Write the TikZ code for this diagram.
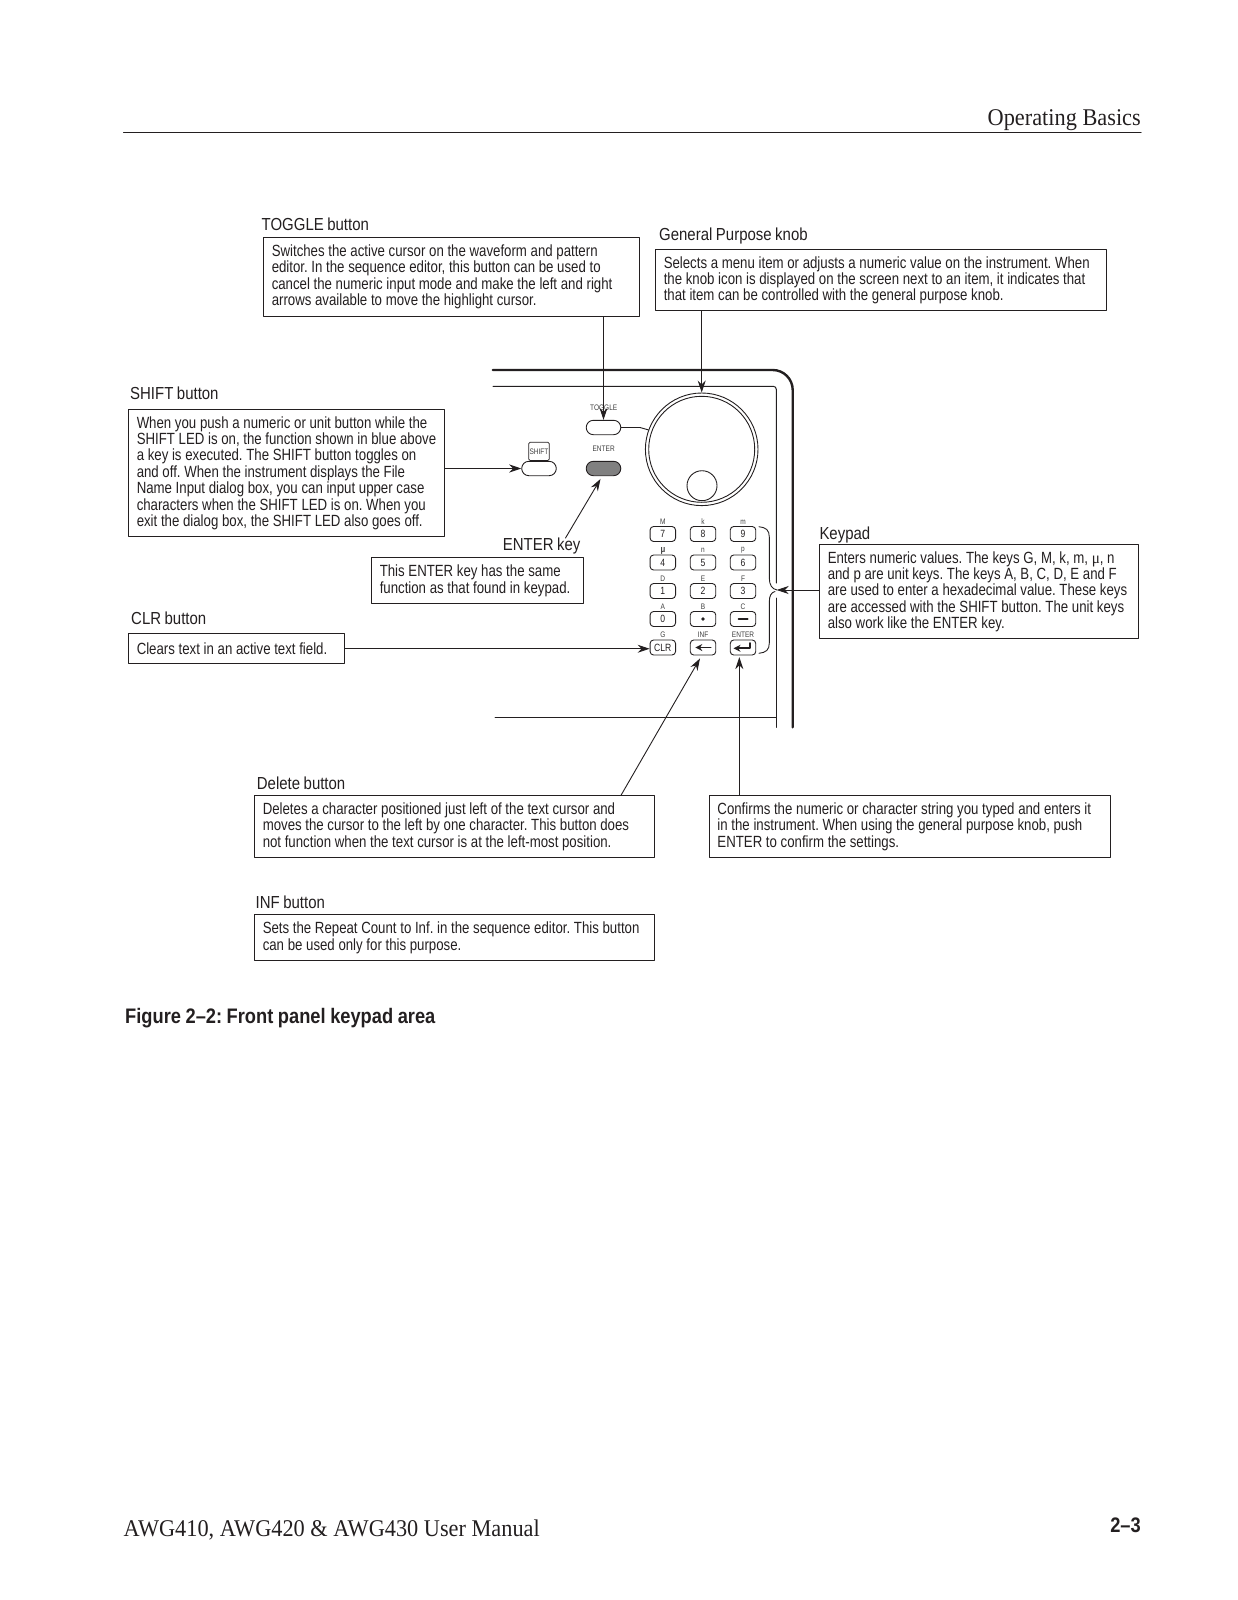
\documentclass[tikz,border=0pt]{standalone}
\usepackage{fontspec}
\usetikzlibrary{arrows.meta}
\newfontfamily\labelfont[FakeStretch=0.817]{Liberation Sans}
\newfontfamily\titlefont[FakeStretch=0.86,WordSpace=0.85]{Liberation Sans}
\newfontfamily\capfont[FakeStretch=0.87,WordSpace=0.9]{Liberation Sans}
\newfontfamily\pagefont[FakeStretch=0.93]{Liberation Serif}
\definecolor{inkblack}{HTML}{231F20}
\frenchspacing
\tikzset{
  infobox/.style={draw=inkblack, line width=0.9pt, anchor=north west, inner xsep=8pt, inner ysep=0pt,
    align=flush left, text=inkblack, font=\labelfont\fontsize{16.2}{16.4}\selectfont},
  boxtitle/.style={anchor=base west, inner sep=0pt, text=inkblack, font=\titlefont\fontsize{17.4}{20}\selectfont},
  callout/.style={-{Stealth[length=12pt,width=8pt]}, line width=0.9pt, draw=inkblack},
  panelkey/.style={draw=inkblack, line width=0.9pt, rounded corners=3.5pt, minimum width=25.5pt, minimum height=15pt,
    inner sep=0pt, text=inkblack, font=\labelfont\fontsize{10.5}{12}\selectfont},
  pill/.style={draw=inkblack, line width=0.9pt, rounded corners=7.2pt, minimum width=34.6pt, minimum height=14.4pt, inner sep=0pt},
  keytag/.style={inner sep=0pt, text=black!75, font=\labelfont\fontsize{8}{9}\selectfont},
  panelline/.style={draw=inkblack, line width=1pt},
}
\begin{document}
\begin{tikzpicture}[x=1pt, y=-1pt, line cap=round, line join=round]
\useasboundingbox (0,0) rectangle (1237,1600);

% Page header
\node[anchor=base east, inner sep=0pt, text=inkblack, font=\pagefont\fontsize{24}{26}\selectfont] (pagehead) at (1141,126) {Operating Basics};
\draw[line width=1pt, inkblack] (123.5,133) -- (1141,133);

% Front panel outline
\draw[inkblack, line width=2.4pt, rounded corners=20pt] (492.7,370) -- (792.7,370) -- (792.7,727.3);
\draw[panelline, rounded corners=3pt] (493,386.3) -- (776.3,386.3) -- (776.3,583);
\draw[panelline] (776.3,598) -- (776.3,727.3);
\draw[panelline] (495,717.3) -- (776.3,717.3);

% Knob
\node[circle, draw=inkblack, line width=0.9pt, minimum size=112.6pt, inner sep=0pt] (knob) at (701.7,449.3) {};
\node[circle, draw=inkblack, line width=0.9pt, minimum size=106pt, inner sep=0pt] (knobring) at (701.7,449.3) {};
\node[circle, draw=inkblack, line width=0.9pt, minimum size=30pt, inner sep=0pt] (knobgrip) at (702,485.7) {};

% Buttons above the keypad
\node[pill] (togglebtn) at (603.5,427.5) {};
\node[pill, fill=black!50] (enterbtn) at (603.5,468.5) {};
\node[pill] (shiftbtn) at (539,468.5) {};
\node[keytag] (toggletag) at (603.7,407.7) {TOGGLE};
\node[keytag] (entertag) at (603.7,448.7) {ENTER};
\node[draw=inkblack, line width=0.7pt, rounded corners=1.5pt, minimum width=20.6pt, minimum height=18.3pt, inner sep=0pt, anchor=south, keytag] (shifttag) at (shiftbtn.north) {SHIFT};
\draw[panelline, line width=0.9pt] (togglebtn.east) -- (640,427.5) -- (knob.160);

% Keypad keys
\node[panelkey] (key7) at (662.8,534) {7};
\node[panelkey] (key8) at (703,534) {8};
\node[panelkey] (key9) at (743,534) {9};
\node[panelkey] (key4) at (662.8,562.5) {4};
\node[panelkey] (key5) at (703,562.5) {5};
\node[panelkey] (key6) at (743,562.5) {6};
\node[panelkey] (key1) at (662.8,591) {1};
\node[panelkey] (key2) at (703,591) {2};
\node[panelkey] (key3) at (743,591) {3};
\node[panelkey] (key0) at (662.8,619) {0};
\node[panelkey] (keydot) at (703,619) {};
\node[panelkey] (keyminus) at (743,619) {};
\node[panelkey] (keyclr) at (662.8,647.5) {CLR};
\node[panelkey] (keyinf) at (703,647.5) {};
\node[panelkey] (keyenter) at (743,647.5) {};

% Key symbols
\fill[inkblack] (keydot.center) circle (1.8pt);
\draw[inkblack, line width=1.7pt] (738.5,619) -- (747.7,619);
\draw[-{Stealth[length=7pt,width=7pt]}, inkblack, line width=1.7pt] (710.7,647.5) -- (695.3,647.5);
\draw[-{Stealth[length=7pt,width=7pt]}, inkblack, line width=1.7pt] (750,643) -- (750,648.3) -- (733.5,648.3);

% Key tags
\node[keytag] (tagM) at (662.8,522) {M};
\node[keytag] (tagk) at (703,522) {k};
\node[keytag] (tagm) at (743,522) {m};
\node[keytag, font=\labelfont\bfseries\fontsize{9.5}{10}\selectfont] (tagmu) at (663,551) {μ};
\node[keytag] (tagn) at (703,550.5) {n};
\node[keytag] (tagp) at (743,550.5) {p};
\node[keytag] (tagD) at (662.8,578.5) {D};
\node[keytag] (tagE) at (703,578.5) {E};
\node[keytag] (tagF) at (743,578.5) {F};
\node[keytag] (tagA) at (662.8,606.5) {A};
\node[keytag] (tagB) at (703,606.5) {B};
\node[keytag] (tagC) at (743,606.5) {C};
\node[keytag] (tagG) at (662.8,635) {G};
\node[keytag] (taginf) at (703,635) {INF};
\node[keytag] (tagenter) at (743,635) {ENTER};

% Keypad brace
\draw[panelline, line width=0.9pt] (759,526.7) .. controls (766,527.5) and (769.3,530) .. (769.3,537) -- (769.3,578) .. controls (769.3,585) and (772,589) .. (777,590);
\draw[panelline, line width=0.9pt] (759,653.3) .. controls (766,652.5) and (769.3,650) .. (769.3,643) -- (769.3,602) .. controls (769.3,596) and (771,592.5) .. (775,591.5);

% TOGGLE button
\node[boxtitle] (toggletitle) at (261.5,230.7) {TOGGLE button};
\node[infobox, text width=359.4pt, minimum height=78.4pt] (togglebox) at (263.3,237.3) {Switches the active cursor on the waveform and pattern\\editor. In the sequence editor, this button can be used to\\cancel the numeric input mode and make the left and right\\arrows available to move the highlight cursor.};
\draw[callout] (togglebtn |- togglebox.south) -- (togglebtn.north);

% General Purpose knob
\node[boxtitle] (knobtitle) at (659,240.7) {General Purpose knob};
\node[infobox, text width=434.4pt, minimum height=61pt] (knobbox) at (655.3,249.3) {Selects a menu item or adjusts a numeric value on the instrument. When\\the knob icon is displayed on the screen next to an item, it indicates that\\that item can be controlled with the general purpose knob.};
\draw[callout] (knob |- knobbox.south) -- (knob.north);

% SHIFT button
\node[boxtitle] (shifttitle) at (130,399) {SHIFT button};
\node[infobox, text width=299.4pt, minimum height=126.7pt] (shiftbox) at (128.3,409.3) {When you push a numeric or unit button while the\\SHIFT LED is on, the function shown in blue above\\a key is executed. The SHIFT button toggles on\\and off. When the instrument displays the File\\Name Input dialog box, you can input upper case\\characters when the SHIFT LED is on. When you\\exit the dialog box, the SHIFT LED also goes off.};
\draw[callout] (shiftbox.east |- shiftbtn) -- (shiftbtn.west);

% ENTER key
\node[boxtitle] (entertitle) at (502.7,550) {ENTER key};
\node[infobox, text width=195.4pt, minimum height=46pt] (enterbox) at (371.3,557.3) {This ENTER key has the same\\function as that found in keypad.};
\coordinate (enterfoot) at (565.5,538);
\draw[callout] (enterfoot) -- ([shift={(-3,2.8)}]enterbtn.south);

% CLR button
\node[boxtitle] (clrtitle) at (131,624) {CLR button};
\node[infobox, text width=199.4pt, minimum height=30pt] (clrbox) at (128.3,633.3) {Clears text in an active text field.};
\draw[callout] (clrbox.east) -- (clrbox.east -| keyclr.west);

% Keypad
\node[boxtitle] (keypadtitle) at (819.3,539.3) {Keypad};
\node[infobox, text width=302.4pt, minimum height=94pt] (keypadbox) at (819.3,544.3) {Enters numeric values. The keys G, M, k, m, {\pagefont μ}, n\\and p are unit keys. The keys A, B, C, D, E and F\\are used to enter a hexadecimal value. These keys\\are accessed with the SHIFT button. The unit keys\\also work like the ENTER key.};
\coordinate (bracetip) at (776.7,590);
\draw[callout] (bracetip -| keypadbox.west) -- (bracetip);

% Delete button
\node[boxtitle] (deltitle) at (256.7,789) {Delete button};
\node[infobox, text width=383.4pt, minimum height=62pt] (delbox) at (254.3,795.3) {Deletes a character positioned just left of the text cursor and\\moves the cursor to the left by one character. This button does\\not function when the text cursor is at the left-most position.};
\coordinate (delfoot) at (621,795.3);
\draw[callout] (delfoot) -- ([shift={(-3,3)}]keyinf.south);

% ENTER confirm box
\node[infobox, text width=384.7pt, minimum height=62pt] (confirmbox) at (709,795.3) {Confirms the numeric or character string you typed and enters it\\in the instrument. When using the general purpose knob, push\\ENTER to confirm the settings.};
\coordinate (confirmfoot) at (739.3,795.3);
\draw[callout] (confirmfoot) -- ([shift={(-3.7,1.7)}]keyenter.south);

% INF button
\node[boxtitle] (inftitle) at (255.5,908) {INF button};
\node[infobox, text width=383.4pt, minimum height=46pt] (infbox) at (254.3,914.3) {Sets the Repeat Count to Inf. in the sequence editor. This button\\can be used only for this purpose.};

% Caption and footer
\node[anchor=base west, inner sep=0pt, text=inkblack, font=\capfont\bfseries\fontsize{21}{24}\selectfont] (figcaption) at (125,1023) {Figure 2–2: Front panel keypad area};
\node[anchor=base west, inner sep=0pt, text=inkblack, font=\pagefont\fontsize{24}{26}\selectfont] (pagefoot) at (123.5,1536) {AWG410, AWG420 \& AWG430 User Manual};
\node[anchor=base east, inner sep=0pt, text=inkblack, font=\capfont\bfseries\fontsize{21}{24}\selectfont] (pagenum) at (1141,1532) {2–3};

\end{tikzpicture}
\end{document}
